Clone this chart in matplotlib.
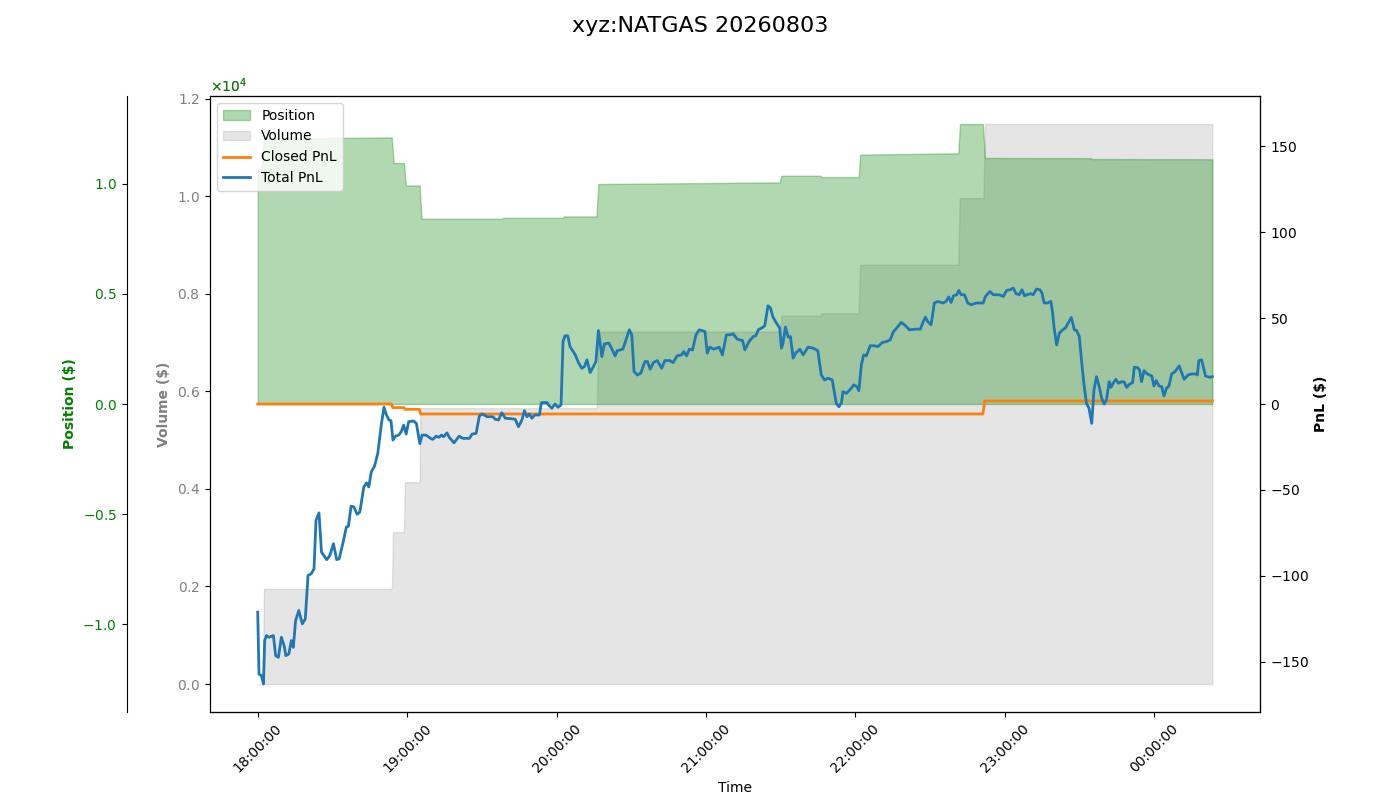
import numpy as np
import matplotlib
matplotlib.use('Agg')
import matplotlib.pyplot as plt
import matplotlib.dates as mdates

plt.rcParams['axes.formatter.use_mathtext'] = True

title = 'xyz:NATGAS 20260803'
start = np.datetime64('2026-08-03T18:00:00')

# minutes after 18:00 and position value ($)
pos_min = [0.0, 1.5, 2.5, 53.8, 54.6, 58.7, 59.5, 65.0, 65.8, 98.0,
           98.7, 122.4, 123.0, 136.0, 136.8, 209.6, 210.3, 225.9, 226.5,
           241.3, 241.9, 281.3, 282.0, 291.2, 292.0, 334.4, 335.2, 383.3]
pos_val = [10640, 10640, 12050, 12100, 10940, 10940, 9920, 9920, 8410, 8410,
           8450, 8450, 8514, 8514, 9985, 10060, 10360, 10360, 10300,
           10300, 11320, 11380, 12710, 12710, 11170, 11160, 11120, 11110]

# minutes after 18:00 and cumulative volume ($)
vol_min = [0.0, 2.0, 2.5, 53.9, 54.3, 58.7, 59.1, 65.0, 65.3, 136.2,
           136.7, 209.8, 210.3, 225.9, 226.3, 241.3, 241.9, 281.3, 281.9,
           291.4, 292.1, 383.3]
vol_val = [0, 0, 1950, 1950, 3112, 3112, 4137, 4137, 5655, 5655,
           7226, 7226, 7549, 7549, 7600, 7600, 8595, 8595, 9960,
           9960, 11480, 11480]

# closed PnL ($)
closed_min = [0.0, 53.7, 54.3, 58.7, 59.2, 64.9, 65.4, 291.2, 291.9, 383.3]
closed_val = [0.0, 0.0, -2.1, -2.1, -3.1, -3.1, -5.8, -5.8, 1.75, 1.75]

# total PnL ($)
pnl_min = [
    0.0, 0.5, 1.5, 2.3, 2.8, 3.5, 4.5, 6.3, 7.2, 8.3,
    9.5, 10.6, 11.3, 12.5, 13.5, 14.3, 15.2, 16.5, 17.9, 19.1,
    20.2, 21.5, 22.6, 23.4, 24.6, 25.6, 27.7, 29.0, 30.4, 31.7,
    32.7, 34.3, 35.6, 36.4, 37.5, 38.6, 39.9, 41.0, 42.6, 43.7,
    44.6, 45.6, 46.9, 48.2, 49.6, 50.7, 51.7, 52.7, 53.5, 54.3,
    55.3, 56.6, 57.6, 58.6, 59.6, 60.6, 62.6, 63.7, 65.1, 66.0,
    67.6, 69.4, 70.3, 71.7, 72.7, 73.8, 74.6, 76.0, 76.9, 78.8,
    80.9, 82.3, 85.0, 86.1, 87.7, 89.0, 90.1, 92.1, 94.4, 95.4,
    96.7, 98.0, 99.4, 102.1, 103.4, 104.7, 106.1, 107.1, 108.1, 109.0,
    110.1, 111.2, 113.1, 113.9, 116.2, 116.8, 118.1, 119.4, 120.5, 121.8,
    122.6, 123.4, 124.5, 125.4, 127.5, 128.8, 130.1, 131.2, 132.2, 133.5,
    134.8, 135.8, 136.8, 138.2, 139.2, 141.0, 142.4, 143.5, 144.4, 146.6,
    147.9, 149.2, 150.2, 151.1, 152.4, 153.8, 155.5, 156.5, 157.6, 158.9,
    160.4, 162.2, 163.5, 165.5, 166.8, 168.4, 170.2, 171.1, 172.2, 173.3,
    174.6, 176.0, 177.3, 179.6, 180.5, 181.5, 183.1, 185.3, 186.6, 188.2,
    189.9, 190.9, 192.5, 194.7, 195.6, 197.3, 199.0, 200.0, 201.0, 202.3,
    203.6, 204.9, 205.9, 206.9, 208.3, 209.6, 210.3, 210.9, 211.9, 213.0,
    213.9, 215.0, 216.0, 217.7, 219.0, 221.0, 223.0, 224.9, 226.3, 227.6,
    229.0, 230.7, 232.3, 233.4, 234.4, 235.0, 236.4, 238.0, 239.3, 240.6,
    241.4, 242.4, 243.3, 244.4, 245.9, 247.7, 249.0, 250.8, 252.6, 254.0,
    255.3, 256.6, 258.4, 259.7, 261.7, 264.4, 266.1, 267.0, 268.1, 269.0,
    270.4, 271.7, 273.1, 275.1, 276.4, 277.5, 278.4, 279.4, 280.7, 281.5,
    282.5, 283.8, 285.1, 286.5, 288.5, 291.3, 292.2, 294.0, 295.4, 297.8,
    299.4, 300.7, 302.1, 303.4, 304.5, 305.8, 306.9, 307.9, 309.2, 310.5,
    311.4, 312.7, 314.1, 314.9, 315.8, 317.1, 318.5, 319.2, 319.8, 320.8,
    321.9, 323.2, 324.3, 325.6, 326.7, 327.9, 328.8, 329.9, 330.9, 331.8,
    332.8, 333.8, 334.9, 335.8, 336.8, 337.9, 338.9, 339.9, 340.8, 341.9,
    342.6, 343.5, 344.6, 345.6, 347.0, 347.9, 348.9, 350.2, 351.3, 352.0,
    353.3, 354.1, 354.9, 355.9, 357.2, 359.0, 359.9, 360.8, 361.9, 363.0,
    363.9, 364.9, 365.9, 367.0, 368.4, 370.0, 371.1, 372.0, 373.6, 375.0,
    376.6, 377.3, 377.9, 379.0, 380.6, 382.0, 383.3]
pnl_val = [
    -121.2, -157.2, -158.2, -163.0, -137.7, -134.8, -135.8, -134.8, -146.5, -147.5,
    -135.8, -140.7, -146.5, -145.5, -137.7, -141.7, -126.1, -120.2, -128.0, -125.1,
    -99.8, -98.8, -95.9, -67.7, -63.4, -86.2, -90.6, -88.1, -81.3, -90.6,
    -90.1, -80.4, -71.6, -71.2, -59.5, -59.9, -64.2, -62.9, -48.3, -45.9,
    -48.3, -39.5, -36.2, -28.8, -12.3, -1.9, -6.4, -9.3, -9.7, -21.0,
    -18.7, -18.1, -16.2, -12.3, -17.5, -10.3, -9.9, -11.3, -23.1, -18.1,
    -18.1, -20.0, -20.6, -18.7, -19.4, -18.1, -19.1, -16.8, -19.4, -22.6,
    -18.7, -20.0, -20.0, -17.5, -17.1, -7.0, -5.8, -7.4, -7.4, -8.9,
    -9.3, -5.1, -8.3, -8.6, -8.9, -13.2, -9.3, -3.9, -7.4, -5.8,
    -8.3, -6.4, -6.4, 0.8, 0.8, -0.6, -2.5, 0.0, -1.9, -0.6,
    36.4, 39.7, 39.7, 33.4, 28.6, 24.1, 20.8, 21.8, 25.7, 18.3,
    21.8, 24.7, 42.8, 27.6, 35.0, 35.4, 31.5, 28.0, 31.1, 31.9,
    37.4, 43.2, 40.3, 18.9, 16.9, 17.9, 24.7, 24.7, 20.3, 24.1,
    25.3, 20.8, 25.3, 25.3, 24.1, 28.0, 28.6, 30.5, 28.0, 31.9,
    31.5, 40.3, 43.2, 42.2, 29.6, 33.1, 31.9, 33.1, 28.6, 40.3,
    40.3, 40.9, 37.8, 36.9, 31.5, 36.4, 39.3, 39.7, 43.2, 44.2,
    45.5, 57.2, 55.9, 50.6, 47.1, 44.2, 32.5, 35.4, 44.8, 38.9,
    39.3, 26.7, 29.6, 31.9, 28.6, 33.1, 32.5, 31.1, 16.9, 14.0,
    15.0, 14.0, 0.4, -1.6, 0.8, 7.2, 6.2, 8.6, 11.1, 10.1,
    7.8, 22.8, 28.6, 28.0, 33.9, 33.9, 33.4, 35.8, 36.4, 37.4,
    42.2, 44.2, 47.5, 46.1, 43.2, 43.6, 43.6, 47.1, 50.6, 48.0,
    46.1, 58.8, 59.7, 58.8, 59.7, 62.3, 59.1, 63.0, 63.6, 66.1,
    63.6, 63.6, 58.8, 57.8, 58.8, 58.8, 62.6, 65.5, 63.6, 63.6,
    62.6, 66.1, 66.5, 67.5, 64.2, 63.6, 66.5, 63.0, 63.8, 64.2,
    63.6, 66.9, 66.5, 64.6, 58.8, 58.8, 59.7, 52.9, 44.2, 34.4,
    41.3, 43.2, 44.2, 47.5, 50.4, 43.2, 42.8, 39.3, 23.8, 11.1,
    0.4, -2.5, -11.3, 8.2, 15.9, 10.1, 3.3, 0.0, 2.3, 13.0,
    9.7, 12.1, 14.4, 12.1, 13.0, 12.8, 9.7, 11.7, 12.4, 21.4,
    21.2, 19.8, 13.0, 19.4, 17.5, 16.3, 10.5, 13.6, 10.5, 10.1,
    4.7, 9.2, 10.5, 17.5, 18.9, 22.2, 17.9, 14.4, 16.9, 17.5,
    17.5, 16.9, 25.3, 25.7, 16.3, 15.6, 15.9]


def to_time(mins):
    ms = np.round(np.asarray(mins, dtype=float) * 60000).astype(np.int64)
    return start + ms.astype('timedelta64[ms]')


fig, ax = plt.subplots(figsize=(14, 8), dpi=100)
fig.subplots_adjust(left=0.15, right=0.9, top=0.88, bottom=0.11)
ax2 = ax.twinx()
ax3 = ax.twinx()

vol_fill = ax.fill_between(to_time(vol_min), 0, vol_val, color='gray',
                           alpha=0.2, label='Volume')
pos_fill = ax2.fill_between(to_time(pos_min), 0, pos_val, color='green',
                            alpha=0.3, label='Position')
l_closed, = ax3.plot(to_time(closed_min), closed_val, color='tab:orange',
                     lw=2, label='Closed PnL')
l_total, = ax3.plot(to_time(pnl_min), pnl_val, color='tab:blue',
                    lw=2, label='Total PnL')

# symmetric limits for position and PnL
pmax = max(abs(v) for v in pos_val) * 1.1
ax2.set_ylim(-pmax, pmax)
qmax = max(max(abs(v) for v in pnl_val), max(abs(v) for v in closed_val)) * 1.1
ax3.set_ylim(-qmax, qmax)

# position axis on the left, moved outward
ax2.spines['left'].set_position(('outward', 60))
ax2.spines['left'].set_visible(True)
ax2.yaxis.set_label_position('left')
ax2.yaxis.set_ticks_position('left')
ax2.yaxis.set_offset_position('left')

ax.ticklabel_format(axis='y', style='sci', scilimits=(-3, 3))
ax2.ticklabel_format(axis='y', style='sci', scilimits=(-3, 3))

ax.set_ylabel('Volume ($)', color='gray', fontweight='bold')
ax2.set_ylabel('Position ($)', color='green', fontweight='bold')
ax3.set_ylabel('PnL ($)', fontweight='bold')
ax.set_xlabel('Time')

ax.tick_params(axis='y', labelcolor='gray')
ax2.tick_params(axis='y', labelcolor='green')

ax.xaxis.set_major_locator(mdates.HourLocator())
ax.xaxis.set_major_formatter(mdates.DateFormatter('%H:%M:%S'))
plt.setp(ax.get_xticklabels(), rotation=45)

ax3.legend([pos_fill, vol_fill, l_closed, l_total],
           ['Position', 'Volume', 'Closed PnL', 'Total PnL'], loc='upper left')

fig.suptitle(title, fontsize=16)
fig.savefig('out.png', dpi=100)
